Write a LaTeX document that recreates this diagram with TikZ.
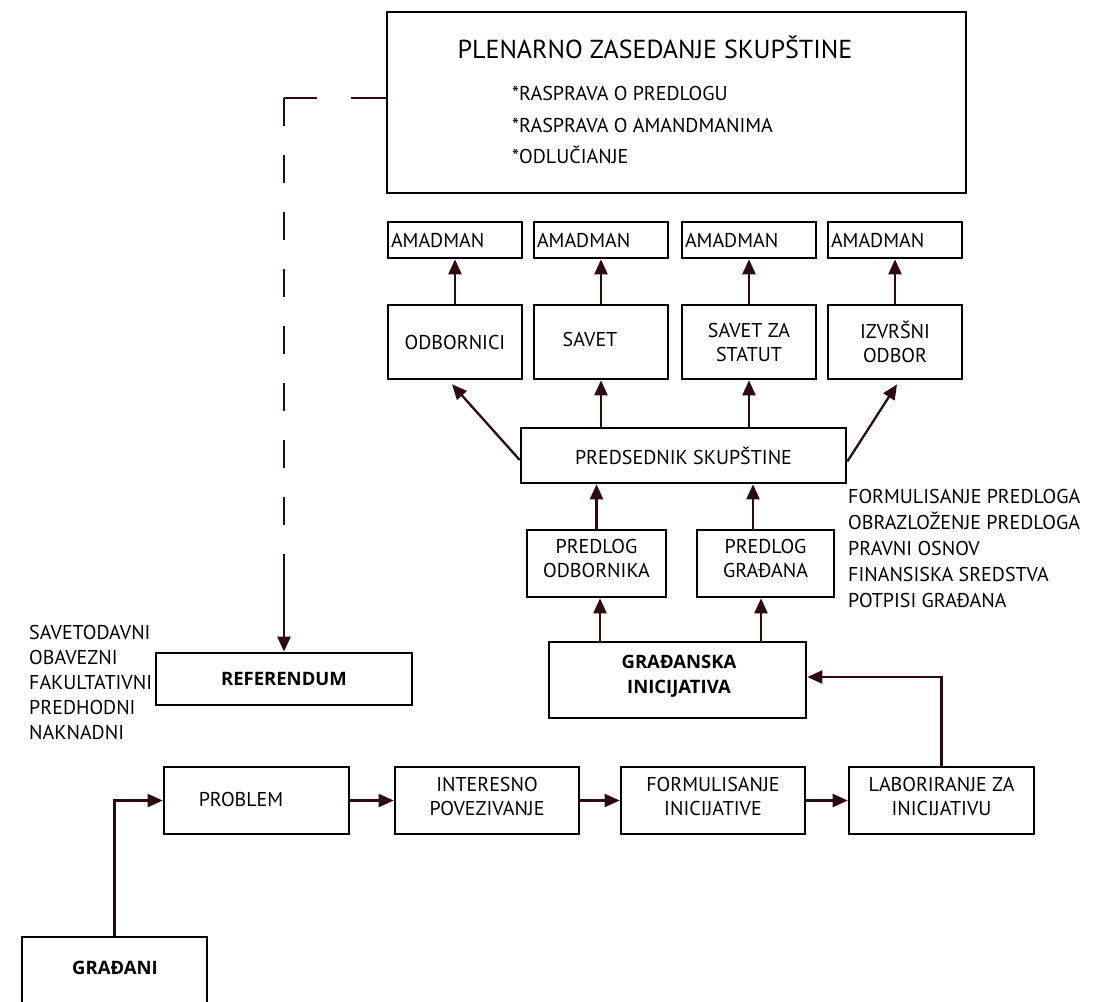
\documentclass[tikz,border=0pt]{standalone}
\usepackage{fontspec}
\setmainfont{PT Sans}
\newfontfamily\boldfam{Open Sans}
\usetikzlibrary{arrows.meta}
\definecolor{arrc}{RGB}{45,10,12}
\tikzset{
  box/.style={draw=black, line width=2.6pt, fill=white, inner sep=2pt, align=center, font=\fontsize{20}{24}\selectfont},
  boldbox/.style={box, font=\boldfam\bfseries\fontsize{18.5}{24.5}\selectfont},
  arr/.style={draw=arrc, line width=2.3pt, -{Triangle[length=15pt,width=13pt]}},
  dashline/.style={draw=arrc, line width=2.3pt},
  plain/.style={font=\fontsize{20}{24}\selectfont, inner sep=0pt},
}
\begin{document}
\begin{tikzpicture}[x=1pt,y=-1pt]
\useasboundingbox (0,0) rectangle (1094,1001);
% top box
\node[box, minimum width=579pt, minimum height=181pt] (plen) at (676.5,102.5) {};
\node[plain, font=\fontsize{26}{30}\selectfont] (ptitle) at (655,47) {PLENARNO ZASEDANJE SKUPŠTINE};
\node[plain, align=left, anchor=west, font=\fontsize{20}{31.5}\selectfont] (pitems) at (512,125) {*RASPRAVA O PREDLOGU\\*RASPRAVA O AMANDMANIMA\\*ODLUČIANJE};
% amadman row
\foreach \n/\x in {a1/455,a2/601,a3/749,a4/895}{
  \node[box, minimum width=134pt, minimum height=36pt, text width=128pt, align=left] (\n) at (\x,240) {AMADMAN};
}
% second row
\node[box, minimum width=134pt, minimum height=74pt] (r1) at (455,342) {ODBORNICI};
\node[box, minimum width=134pt, minimum height=74pt] (r2) at (601,342) {};
\node[plain] (r2t) at (590,339) {SAVET};
\node[box, minimum width=134pt, minimum height=74pt] (r3) at (749,342) {SAVET ZA\\STATUT};
\node[box, minimum width=134pt, minimum height=74pt] (r4) at (895,342) {IZVRŠNI\\ODBOR};
% predsednik
\node[box, minimum width=325pt, minimum height=55pt] (pred) at (683.5,455.5) {PREDSEDNIK SKUPŠTINE};
% predlozi
\node[box, minimum width=139pt, minimum height=67pt] (po) at (596.5,563.5) {};
\node[plain, align=center] (pot) at (596.5,558) {PREDLOG\\ODBORNIKA};
\node[box, minimum width=137pt, minimum height=67pt] (pg) at (765.5,563.5) {};
\node[plain, align=center] (pgt) at (765.5,558) {PREDLOG\\GRAĐANA};
\node[plain, align=left, anchor=west, font=\fontsize{20}{26}\selectfont] (rlist) at (848,548) {FORMULISANJE PREDLOGA\\OBRAZLOŽENJE PREDLOGA\\PRAVNI OSNOV\\FINANSISKA SREDSTVA\\POTPISI GRAĐANA};
% gradjanska inicijativa
\node[boldbox, minimum width=257pt, minimum height=76pt] (gi) at (677.5,680) {};
\node[plain, align=center, font=\boldfam\bfseries\fontsize{18.5}{24.5}\selectfont] (git) at (679,676) {GRAĐANSKA\\INICIJATIVA};
% referendum
\node[boldbox, minimum width=256pt, minimum height=52pt] (ref) at (284,679) {REFERENDUM};
\node[plain, align=left, anchor=west, font=\fontsize{20}{25}\selectfont] (llist) at (29,682) {SAVETODAVNI\\OBAVEZNI\\FAKULTATIVNI\\PREDHODNI\\NAKNADNI};
% bottom row
\node[box, minimum width=185pt, minimum height=67pt] (prob) at (256.5,800.5) {};
\node[plain] (probt) at (241,799) {PROBLEM};
\node[box, minimum width=184pt, minimum height=67pt] (int) at (487,800.5) {};
\node[plain, align=center] (intt) at (487,796) {INTERESNO\\POVEZIVANJE};
\node[box, minimum width=184pt, minimum height=67pt] (fi) at (713,800.5) {};
\node[plain, align=center] (fit) at (713,796) {FORMULISANJE\\INICIJATIVE};
\node[box, minimum width=185pt, minimum height=67pt] (lab) at (941.5,800.5) {};
\node[plain, align=center] (labt) at (941.5,796) {LABORIRANJE ZA\\INICIJATIVU};
% gradjani
\node[box, minimum width=185pt, minimum height=90pt] (gr) at (114.5,982) {};
\node[plain, font=\boldfam\bfseries\fontsize{18.5}{23}\selectfont] (grt) at (115,968) {GRAĐANI};
% coordinates
\coordinate (corner) at (284,98);
\coordinate (c2) at (284,554);
\coordinate (x753) at (753,0);
\coordinate (x600) at (600,0);
\coordinate (x761) at (761,0);
% connectors
\draw[dashline, dash pattern=on 35pt off 34pt] ([yshift=4.5pt]plen.west) -- (corner);
\draw[dashline, dash pattern=on 28pt off 29pt] (corner) -- (c2);
\draw[arr] (c2) -- (ref.north);
\foreach \i in {1,2,3,4}{ \draw[arr] (r\i.north) -- (a\i.south); }
\draw[arr] ([yshift=-4.5pt]pred.west) -- ([xshift=-3pt,yshift=-4pt]r1.south);
\draw[arr] (pred.north -| r2.south) -- (r2.south);
\draw[arr] (pred.north -| r3.south) -- (r3.south);
\draw[arr] ([yshift=-6pt]pred.east) -- ([xshift=2pt,yshift=-4pt]r4.south);
\draw[arr] (po.north) -- (po.north |- pred.south);
\draw[arr] (pg.north -| x753) -- (pred.south -| x753);
\draw[arr] (gi.north -| x600) -- (po.south -| x600);
\draw[arr] (gi.north -| x761) -- (pg.south -| x761);
\draw[arr] (lab.north) |- ([yshift=3pt]gi.east);
\draw[arr] (prob.east) -- (int.west);
\draw[arr] (int.east) -- (fi.west);
\draw[arr] (fi.east) -- (lab.west);
\draw[arr] (gr.north) |- (prob.west);
\end{tikzpicture}
\end{document}
